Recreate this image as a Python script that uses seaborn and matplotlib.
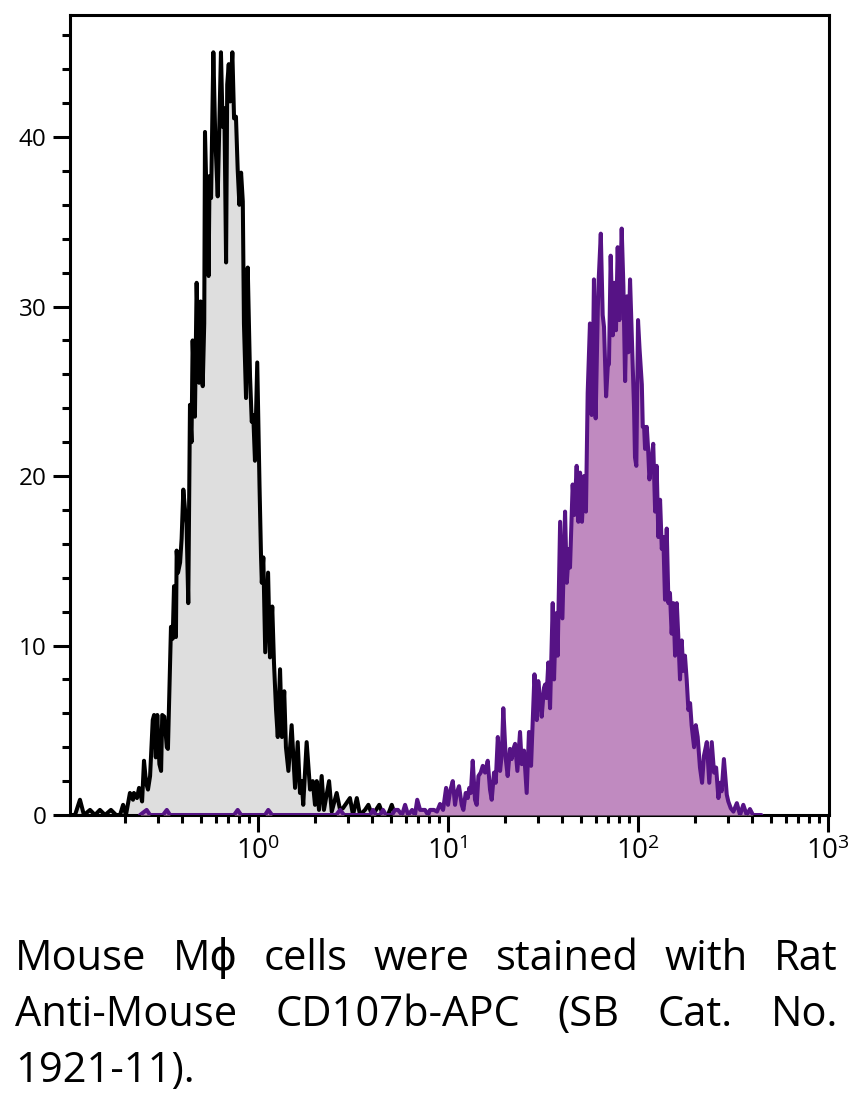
import numpy as np
import matplotlib
matplotlib.use("Agg")
import matplotlib.pyplot as plt
from matplotlib import font_manager, ticker
import seaborn as sns

# ------------------------------------------------------------------
# Data (log10 of fluorescence, event count)
# ------------------------------------------------------------------
gray_log = [-0.988, -0.962, -0.936, -0.915, -0.883, -0.857, -0.831, -0.804, -0.773, -0.746,
            -0.725, -0.709, -0.694, -0.673, -0.657, -0.652, -0.636, -0.625, -0.609, -0.599,
            -0.588, -0.578, -0.567, -0.553, -0.546, -0.537, -0.529, -0.518, -0.509, -0.503,
            -0.492, -0.479, -0.473, -0.462, -0.457, -0.448, -0.441, -0.431, -0.427, -0.420,
            -0.409, -0.401, -0.392, -0.383, -0.375, -0.366, -0.357, -0.349, -0.343, -0.331,
            -0.322, -0.309, -0.301, -0.290, -0.282, -0.278, -0.270, -0.265, -0.259, -0.254,
            -0.246, -0.234, -0.224, -0.211, -0.194, -0.185, -0.176, -0.167, -0.161, -0.153,
            -0.146, -0.134, -0.125, -0.115, -0.106, -0.097, -0.088, -0.079, -0.073, -0.062,
            -0.053, -0.041, -0.032, -0.024, -0.015, -0.003, 0.004, 0.009, 0.017, 0.021,
            0.029, 0.039, 0.054, 0.064, 0.076, 0.085, 0.096, 0.105, 0.117, 0.127,
            0.139, 0.148, 0.161, 0.178, 0.196, 0.210, 0.222, 0.231, 0.239, 0.257,
            0.275, 0.289, 0.301, 0.310, 0.322, 0.336, 0.348, 0.359, 0.375, 0.389,
            0.415, 0.433, 0.448, 0.485, 0.501, 0.521, 0.538, 0.564, 0.582, 0.601,
            0.622, 0.639, 0.659, 0.685, 0.705, 0.722, 0.760]
gray_count = [0.0, 0.0, 0.9, 0.0, 0.3, 0.0, 0.3, 0.0, 0.3, 0.0,
              0.0, 0.6, 0.0, 1.3, 0.9, 1.3, 1.0, 1.6, 0.8, 3.2,
              1.9, 1.5, 2.3, 5.6, 5.9, 3.4, 5.9, 3.0, 2.6, 5.9,
              5.8, 4.0, 3.9, 9.0, 11.1, 10.4, 13.5, 10.5, 15.6, 14.3,
              14.9, 16.3, 19.2, 18.0, 17.2, 12.5, 24.2, 22.0, 28.0, 23.5,
              31.4, 25.5, 30.3, 25.3, 29.0, 40.3, 36.5, 37.5, 31.8, 37.7,
              36.4, 45.0, 40.0, 36.5, 45.0, 40.6, 41.7, 32.6, 43.1, 44.3,
              42.1, 45.0, 41.1, 41.2, 38.1, 36.0, 37.9, 36.2, 29.0, 24.6,
              32.3, 25.9, 23.2, 23.6, 20.9, 26.7, 22.5, 19.4, 15.2, 13.7,
              15.2, 9.6, 14.3, 9.3, 12.3, 9.0, 6.2, 4.6, 8.6, 4.6,
              7.3, 4.0, 2.6, 5.3, 1.6, 4.3, 1.3, 2.0, 0.6, 4.3,
              1.5, 2.0, 0.6, 2.0, 0.3, 2.3, 0.3, 1.0, 2.0, 0.2,
              1.3, 0.3, 0.4, 1.0, 0.0, 1.0, 0.0, 0.3, 0.6, 0.0,
              0.3, 0.6, 0.0, 0.0, 0.6, 0.0, 0.0]

purple_log = [-0.620, -0.585, -0.567, -0.499, -0.479, -0.462, -0.125, -0.106, -0.088, 0.038,
              0.055, 0.075, 0.412, 0.433, 0.454, 0.591, 0.606, 0.622, 0.643, 0.659,
              0.675, 0.706, 0.722, 0.738, 0.759, 0.775, 0.791, 0.812, 0.827, 0.839,
              0.854, 0.880, 0.896, 0.906, 0.927, 0.943, 0.959, 0.975, 0.991, 1.001,
              1.012, 1.026, 1.038, 1.047, 1.059, 1.073, 1.082, 1.094, 1.105, 1.113,
              1.121, 1.131, 1.143, 1.152, 1.161, 1.173, 1.184, 1.196, 1.210, 1.222,
              1.231, 1.243, 1.252, 1.263, 1.275, 1.284, 1.292, 1.305, 1.315, 1.327,
              1.336, 1.345, 1.354, 1.366, 1.380, 1.389, 1.401, 1.415, 1.427, 1.438,
              1.456, 1.468, 1.476, 1.485, 1.494, 1.506, 1.512, 1.519, 1.529, 1.538,
              1.552, 1.559, 1.569, 1.578, 1.591, 1.603, 1.617, 1.626, 1.638, 1.643,
              1.657, 1.666, 1.678, 1.687, 1.696, 1.706, 1.717, 1.727, 1.736, 1.748,
              1.757, 1.763, 1.769, 1.778, 1.789, 1.794, 1.805, 1.815, 1.822, 1.833,
              1.842, 1.848, 1.857, 1.868, 1.876, 1.885, 1.894, 1.903, 1.915, 1.924,
              1.933, 1.942, 1.950, 1.959, 1.973, 1.980, 1.985, 1.992, 2.001, 2.009,
              2.021, 2.026, 2.033, 2.038, 2.047, 2.054, 2.061, 2.069, 2.081, 2.091,
              2.099, 2.108, 2.117, 2.126, 2.134, 2.143, 2.152, 2.161, 2.169, 2.178,
              2.187, 2.196, 2.205, 2.213, 2.222, 2.231, 2.239, 2.248, 2.257, 2.266,
              2.275, 2.283, 2.296, 2.305, 2.315, 2.327, 2.338, 2.348, 2.363, 2.376,
              2.389, 2.401, 2.412, 2.424, 2.433, 2.441, 2.453, 2.468, 2.476, 2.489,
              2.503, 2.521, 2.538, 2.555, 2.573, 2.590, 2.606, 2.650]
purple_count = [0.0, 0.3, 0.0, 0.0, 0.3, 0.0, 0.0, 0.3, 0.0, 0.0,
                0.3, 0.0, 0.0, 0.3, 0.0, 0.0, 0.3, 0.0, 0.0, 0.3,
                0.0, 0.0, 0.3, 0.3, 0.0, 0.6, 0.0, 0.3, 0.0, 0.9,
                0.3, 0.3, 0.0, 0.3, 0.3, 0.2, 0.65, 0.3, 1.6, 0.6,
                1.4, 2.0, 0.6, 1.3, 1.7, 0.6, 0.3, 1.3, 1.0, 1.6,
                1.3, 3.2, 0.9, 0.6, 2.3, 2.5, 2.9, 2.5, 3.2, 1.5,
                0.9, 2.5, 1.9, 4.6, 2.6, 3.6, 6.3, 3.3, 2.3, 3.9,
                3.3, 3.9, 4.2, 2.6, 4.9, 3.0, 3.8, 1.3, 4.9, 2.9,
                8.3, 5.6, 7.9, 6.9, 5.8, 7.5, 7.7, 6.9, 9.0, 6.3,
                12.5, 8.0, 11.9, 9.4, 17.3, 11.6, 17.9, 13.7, 15.7, 14.6,
                19.5, 17.7, 20.6, 17.3, 20.2, 17.3, 20.0, 17.9, 24.9, 29.0,
                23.6, 26.0, 31.6, 23.4, 29.7, 31.6, 34.3, 29.5, 28.8, 24.7,
                26.5, 26.6, 33.0, 28.3, 31.4, 28.6, 33.5, 29.2, 34.6, 31.2,
                25.6, 30.6, 27.3, 31.6, 26.5, 24.0, 21.1, 20.6, 29.2, 27.5,
                25.4, 22.9, 22.9, 21.6, 22.9, 21.6, 19.8, 20.6, 21.9, 17.9,
                20.6, 16.4, 18.6, 15.7, 16.4, 12.7, 16.9, 12.5, 13.1, 10.7,
                12.5, 9.4, 12.5, 10.5, 8.0, 10.3, 8.5, 9.4, 8.0, 6.2,
                6.6, 5.3, 4.0, 5.3, 4.6, 2.8, 1.9, 3.5, 4.3, 1.9,
                4.3, 2.5, 2.8, 1.0, 1.9, 1.4, 3.3, 1.2, 0.8, 0.4,
                0.2, 0.7, 0.0, 0.6, 0.0, 0.35, 0.0, 0.0]

y_ticks = [0, 10, 20, 30, 40]
caption_lines = ["Mouse M\u03d5 cells were stained with Rat",
                 "Anti-Mouse CD107b-APC (SB Cat. No.",
                 "1921-11)."]

# ------------------------------------------------------------------
# Style
# ------------------------------------------------------------------
sns.set_style("ticks")
installed = {f.name for f in font_manager.fontManager.ttflist}
main_font = "Open Sans" if "Open Sans" in installed else "DejaVu Sans"
plt.rcParams["font.family"] = [main_font, "DejaVu Sans"]
plt.rcParams["mathtext.fontset"] = "custom"
plt.rcParams["mathtext.rm"] = main_font
plt.rcParams["text.color"] = "black"
plt.rcParams["axes.linewidth"] = 2.2

fig = plt.figure(figsize=(8.63, 10.96), dpi=100)
ax = fig.add_axes([70 / 863, 281 / 1096, 759 / 863, 800 / 1096])

gx = 10 ** np.array(gray_log)
px = 10 ** np.array(purple_log)

ax.fill_between(gx, 0, gray_count, color="#dedede", lw=0, zorder=1)
sns.lineplot(x=gx, y=gray_count, ax=ax, color="black", lw=2.9,
             estimator=None, sort=False, zorder=2)
ax.fill_between(px, 0, purple_count, color="#c08ac0", lw=0, zorder=3)
sns.lineplot(x=px, y=purple_count, ax=ax, color="#561385", lw=2.9,
             estimator=None, sort=False, zorder=4)

ax.set_xscale("log")
ax.set_xlim(0.1027, 1014)
ax.set_ylim(0, 47.2)

ax.xaxis.set_major_locator(ticker.LogLocator(base=10, numticks=10))
ax.xaxis.set_minor_locator(ticker.LogLocator(base=10, subs=np.arange(2, 10), numticks=20))
ax.xaxis.set_minor_formatter(ticker.NullFormatter())
ax.set_yticks(y_ticks)
ax.yaxis.set_minor_locator(ticker.MultipleLocator(2))

ax.tick_params(which="major", direction="out", length=12, width=2.2,
               colors="black", labelcolor="black")
ax.tick_params(axis="y", which="major", pad=5, labelsize=17.5)
ax.tick_params(axis="x", which="major", pad=4, labelsize=20)
ax.tick_params(which="minor", direction="out", length=5.5, width=2.2, colors="black")
ax.tick_params(axis="x", which="both", top=False)
ax.tick_params(axis="y", which="both", right=False)
for s in ax.spines.values():
    s.set_visible(True)
    s.set_color("black")
    s.set_linewidth(2.2)
ax.set_xlabel("")
ax.set_ylabel("")
ax.grid(False)

# ------------------------------------------------------------------
# Justified caption under the plot
# ------------------------------------------------------------------
renderer = fig.canvas.get_renderer()
W, H = 863, 1096
left_px, right_px = 15, 838
baselines = [970, 1026, 1082]
cap_kw = dict(fontsize=30, family=[main_font, "DejaVu Sans"], color="black",
              va="baseline", ha="left")
for i, (line, base) in enumerate(zip(caption_lines, baselines)):
    yfig = 1 - base / H
    if i == len(caption_lines) - 1:
        fig.text(left_px / W, yfig, line, **cap_kw)
        continue
    words = line.split(" ")
    texts = [fig.text(0, yfig, w, **cap_kw) for w in words]
    widths = [t.get_window_extent(renderer).width for t in texts]
    gap = (right_px - left_px - sum(widths)) / (len(words) - 1)
    x = left_px
    for t, w in zip(texts, widths):
        t.set_x(x / W)
        x += w + gap

fig.savefig("out.png", dpi=100)
